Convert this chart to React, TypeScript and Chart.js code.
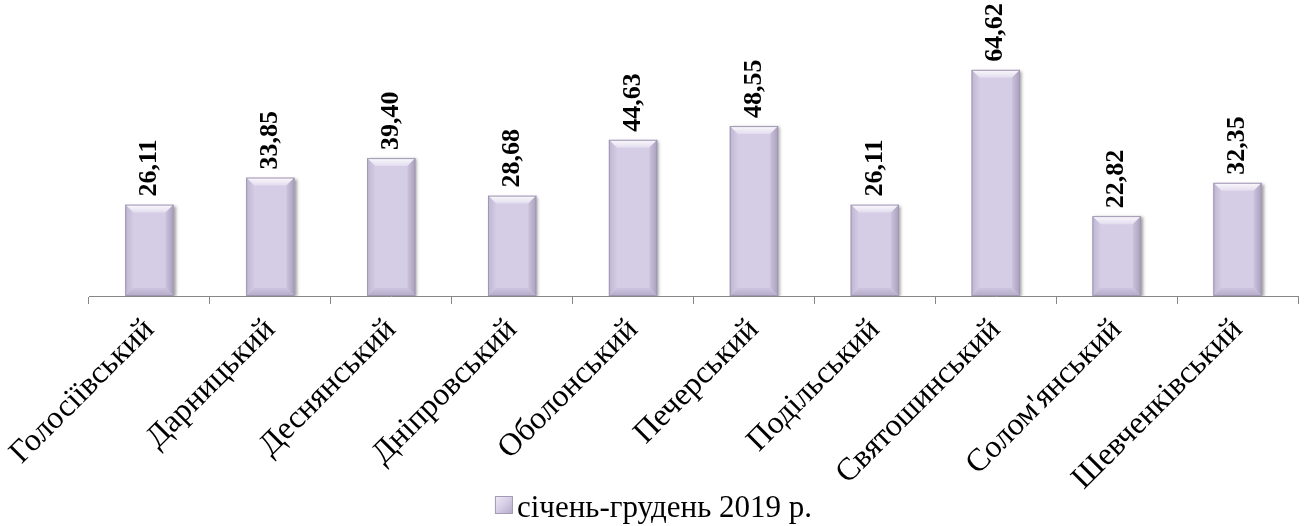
import { useEffect, useRef } from 'react';
import { Chart, registerables } from 'chart.js';

Chart.register(...registerables);

const categories = [
  'Голосіївський',
  'Дарницький',
  'Деснянський',
  'Дніпровський',
  'Оболонський',
  'Печерський',
  'Подільський',
  'Святошинський',
  "Солом'янський",
  'Шевченківський',
];
const values = [26.11, 33.85, 39.4, 28.68, 44.63, 48.55, 26.11, 64.62, 22.82, 32.35];
const seriesLabel = 'січень-грудень 2019 р.';
const yMin = 0;
const yMax = 80;

const SERIF = "'Liberation Serif', 'Times New Roman', serif";
const BAR_FILL = '#d5cde6';

function fmt(v: number) {
  return v.toFixed(2).replace('.', ',');
}

const shadowPlugin = {
  id: 'barShadow',
  beforeDatasetDraw(chart: any) {
    const ctx = chart.ctx;
    ctx.save();
    ctx.shadowColor = 'rgba(60,60,60,0.5)';
    ctx.shadowOffsetX = 2;
    ctx.shadowOffsetY = 1;
    ctx.shadowBlur = 3;
  },
  afterDatasetDraw(chart: any) {
    chart.ctx.restore();
  },
};

function poly(ctx: CanvasRenderingContext2D, pts: number[][], fill: any) {
  ctx.beginPath();
  ctx.moveTo(pts[0][0], pts[0][1]);
  for (let i = 1; i < pts.length; i++) ctx.lineTo(pts[i][0], pts[i][1]);
  ctx.closePath();
  ctx.fillStyle = fill;
  ctx.fill();
}

const bevelAndLabels = {
  id: 'bevelAndLabels',
  afterDatasetsDraw(chart: any) {
    const ctx: CanvasRenderingContext2D = chart.ctx;
    const meta = chart.getDatasetMeta(0);
    const ds = chart.data.datasets[0];
    meta.data.forEach((bar: any, i: number) => {
      const { x, y, base, width } = bar.getProps(['x', 'y', 'base', 'width'], true);
      const l = x - width / 2;
      const r = x + width / 2;
      const t = y;
      const b = base;
      const d = Math.min(8, (b - t) / 2);
      ctx.save();
      const gT = ctx.createLinearGradient(0, t, 0, t + d);
      gT.addColorStop(0, '#fbfafd');
      gT.addColorStop(1, '#e2dcee');
      poly(ctx, [[l, t], [r, t], [r - d, t + d], [l + d, t + d]], gT);
      const gL = ctx.createLinearGradient(l, 0, l + d, 0);
      gL.addColorStop(0, '#bfb6d1');
      gL.addColorStop(1, '#d3cbe4');
      poly(ctx, [[l, t], [l + d, t + d], [l + d, b - d], [l, b]], gL);
      const gR = ctx.createLinearGradient(r - d, 0, r, 0);
      gR.addColorStop(0, '#cbc2dd');
      gR.addColorStop(1, '#a99fbc');
      poly(ctx, [[r, t], [r, b], [r - d, b - d], [r - d, t + d]], gR);
      const gB = ctx.createLinearGradient(0, b - d, 0, b);
      gB.addColorStop(0, '#cdc4df');
      gB.addColorStop(1, '#b5abc9');
      poly(ctx, [[l, b], [l + d, b - d], [r - d, b - d], [r, b]], gB);
      ctx.strokeStyle = '#a097b2';
      ctx.lineWidth = 1;
      ctx.strokeRect(l + 0.5, t + 0.5, width - 1, b - t - 1);
      ctx.restore();

      ctx.save();
      ctx.translate(x, t - 8);
      ctx.rotate(-Math.PI / 2);
      ctx.font = `bold 26px ${SERIF}`;
      ctx.fillStyle = '#000';
      ctx.textAlign = 'left';
      ctx.textBaseline = 'middle';
      ctx.fillText(fmt(ds.data[i]), 0, 0);
      ctx.restore();
    });
  },
  afterDraw(chart: any) {
    const ctx: CanvasRenderingContext2D = chart.ctx;
    const ds = chart.data.datasets[0];
    ctx.save();
    ctx.font = `31px ${SERIF}`;
    const text = ds.label as string;
    const tw = ctx.measureText(text).width;
    const box = 18;
    const gap = 4;
    const total = box + gap + tw;
    const x0 = (chart.width - total) / 2;
    const baseY = 517;
    const boxTop = 496;
    const g = ctx.createLinearGradient(x0, boxTop, x0 + box, boxTop + box);
    g.addColorStop(0, '#efebf5');
    g.addColorStop(0.5, BAR_FILL);
    g.addColorStop(1, '#b3a9c6');
    ctx.fillStyle = g;
    ctx.fillRect(x0, boxTop, box, box);
    ctx.strokeStyle = '#a49ab6';
    ctx.lineWidth = 1;
    ctx.strokeRect(x0 + 0.5, boxTop + 0.5, box - 1, box - 1);
    ctx.fillStyle = '#000';
    ctx.textAlign = 'left';
    ctx.textBaseline = 'alphabetic';
    ctx.fillText(text, x0 + box + gap, baseY);
    ctx.restore();
  },
};

export default function App() {
  const ref = useRef<HTMLCanvasElement | null>(null);

  useEffect(() => {
    if (!ref.current) return;
    const chart = new Chart(ref.current, {
      type: 'bar',
      data: {
        labels: categories,
        datasets: [
          {
            label: seriesLabel,
            data: values,
            backgroundColor: BAR_FILL,
            borderWidth: 0,
            categoryPercentage: 1,
            barPercentage: 0.4,
          },
        ],
      },
      options: {
        animation: false,
        responsive: true,
        maintainAspectRatio: false,
        layout: { padding: { left: 89, right: 9, top: 16, bottom: 0 } },
        plugins: {
          legend: { display: false },
          tooltip: { enabled: false },
          title: { display: false },
        },
        scales: {
          x: {
            z: 1,
            offset: true,
            grid: {
              display: true,
              offset: true,
              drawOnChartArea: false,
              drawTicks: true,
              tickLength: 8,
              color: '#878787',
              lineWidth: 1,
            },
            border: { display: true, color: '#878787', width: 1 },
            ticks: {
              font: { family: SERIF, size: 32 },
              color: '#000',
              minRotation: 45,
              maxRotation: 45,
              autoSkip: false,
              padding: 7,
            },
            afterFit(scale: any) {
              scale.height = 230;
              scale.paddingLeft = 0;
              scale.paddingRight = 0;
            },
          },
          y: {
            display: false,
            min: yMin,
            max: yMax,
          },
        },
      },
      plugins: [shadowPlugin, bevelAndLabels],
    });
    return () => chart.destroy();
  }, []);

  return (
    <div style={{ position: 'fixed', left: 0, top: 0, width: 1307, height: 526 }}>
      <canvas ref={ref} />
    </div>
  );
}
